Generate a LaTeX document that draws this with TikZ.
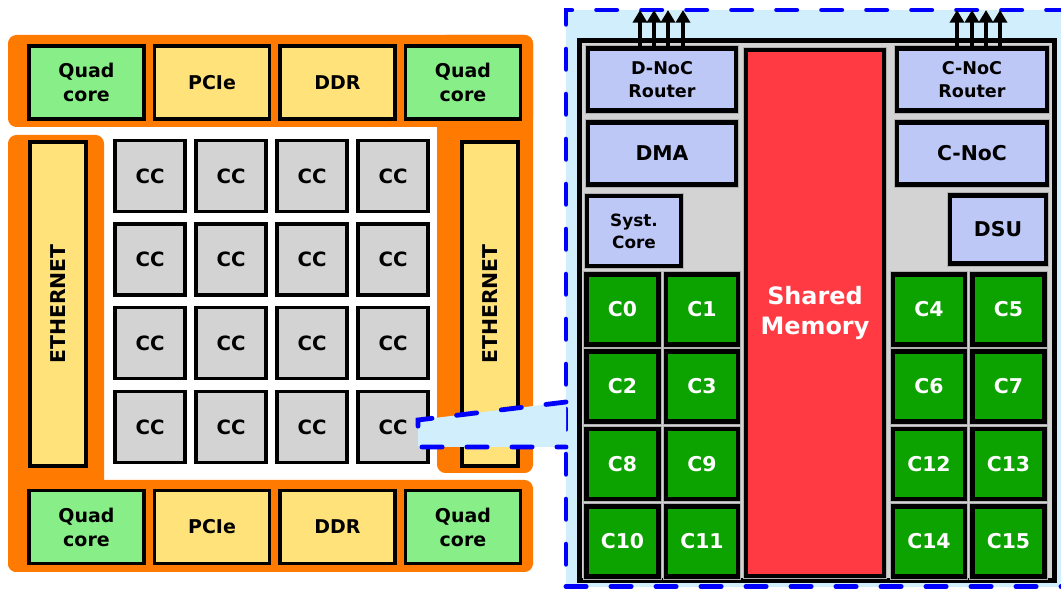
\documentclass[tikz,border=0pt]{standalone}
\usepackage{fontspec}
\setmainfont{DejaVu Sans}
\usepackage{tikz}
\usetikzlibrary{arrows.meta,positioning,calc}
\definecolor{chiporange}{RGB}{255, 122, 0}
\definecolor{quadgreen}{RGB}{136, 238, 136}
\definecolor{ioyellow}{RGB}{255, 226, 122}
\definecolor{ccgray}{RGB}{211, 211, 211}
\definecolor{zoomblue}{RGB}{208, 238, 251}
\definecolor{dashblue}{RGB}{0, 0, 255}
\definecolor{noclilac}{RGB}{190, 200, 247}
\definecolor{memred}{RGB}{255, 58, 66}
\definecolor{coregreen}{RGB}{12, 162, 0}
\definecolor{cellline}{RGB}{176, 176, 176}

\begin{document}
\begin{tikzpicture}[x=0.025cm, y=-0.025cm,
    iobox/.style={draw=black, line width=2.8pt, inner sep=0pt, align=center,
        font=\fontsize{13.5}{17}\selectfont\bfseries},
    quad/.style={iobox, fill=quadgreen, minimum width=2.875cm, minimum height=1.825cm},
    port/.style={iobox, fill=ioyellow, minimum width=2.875cm, minimum height=1.825cm},
    ether/.style={iobox, fill=ioyellow, rotate=90, minimum width=8.1cm, minimum height=1.4cm,
        font=\fontsize{14.5}{17}\selectfont\bfseries},
    cc/.style={iobox, fill=ccgray, minimum width=1.75cm, minimum height=1.775cm,
        font=\fontsize{14}{17}\selectfont\bfseries},
    module/.style={draw=black, line width=3.2pt, preaction={draw=cellline, line width=4.6pt},
        inner sep=0pt, align=center},
    noc/.style={module, fill=noclilac, font=\fontsize{14.5}{17}\selectfont\bfseries},
    core/.style={module, fill=coregreen, text=white, minimum width=1.81cm, minimum height=1.76cm,
        font=\fontsize{14.5}{17}\selectfont\bfseries},
    flow/.style={-{Triangle[length=9pt,width=10pt]}, line width=3pt},
    zoomline/.style={dashblue, line width=3.4pt, dash pattern=on 14.4pt off 17.6pt, line cap=round}]
    \useasboundingbox (0,0) rectangle (1061,589);

    % orange package frame
    \fill[chiporange, rounded corners=6pt] (8,35) rectangle (533,127);
    \fill[chiporange, rounded corners=6pt] (437,35) rectangle (533,473);
    \fill[chiporange, rounded corners=6pt] (8,135) rectangle (104,572);
    \fill[chiporange, rounded corners=6pt] (8,480) rectangle (533,572);

    % I/O blocks, top and bottom
    \node[quad] (quad1) at (86.5,82.5) {Quad\\core};
    \node[port] (pcie1) at (212,82.5) {PCIe};
    \node[port] (ddr1) at (337.5,82.5) {DDR};
    \node[quad] (quad2) at (463,82.5) {Quad\\core};
    \node[quad] (quad3) at (86.5,527) {Quad\\core};
    \node[port] (pcie2) at (212,527) {PCIe};
    \node[port] (ddr2) at (337.5,527) {DDR};
    \node[quad] (quad4) at (463,527) {Quad\\core};
    \node[ether] (ethl) at (58,304) {ETHERNET};
    \node[ether] (ethr) at (490,304) {ETHERNET};

    % compute clusters
    \node[cc] (cc11) at (150,176) {CC};
    \node[cc] (cc12) at (231,176) {CC};
    \node[cc] (cc13) at (312,176) {CC};
    \node[cc] (cc14) at (393,176) {CC};
    \node[cc] (cc21) at (150,259.5) {CC};
    \node[cc] (cc22) at (231,259.5) {CC};
    \node[cc] (cc23) at (312,259.5) {CC};
    \node[cc] (cc24) at (393,259.5) {CC};
    \node[cc] (cc31) at (150,343) {CC};
    \node[cc] (cc32) at (231,343) {CC};
    \node[cc] (cc33) at (312,343) {CC};
    \node[cc] (cc34) at (393,343) {CC};
    \node[cc] (cc41) at (150,427) {CC};
    \node[cc] (cc42) at (231,427) {CC};
    \node[cc] (cc43) at (312,427) {CC};
    \node[cc] (cc44) at (393,427) {CC};

    % zoomed cluster
    \node[fill=zoomblue, draw=dashblue, line width=3.4pt, dash pattern=on 14.4pt off 17.6pt,
        line cap=round, minimum width=12.55cm, minimum height=14.41cm] (panel) at (817,298.25) {};
    \coordinate (zoomA) at (566,402);
    \coordinate (zoomB) at (418,420);
    \coordinate (zoomC) at (418,447);
    \coordinate (zoomD) at (566,447);
    \fill[zoomblue] (zoomA) -- (zoomB) -- (zoomC) -- (zoomD) -- cycle;
    \draw[zoomline] (zoomA) -- (zoomB) -- (zoomC) -- (zoomD);

    \node[draw=black, line width=3.5pt, fill=ccgray, minimum width=11.875cm, minimum height=13.5cm]
        (chip) at (817,310.5) {};

    \node[noc, minimum width=3.69cm, minimum height=1.56cm, font=\fontsize{12.5}{16}\selectfont\bfseries]
        (dnoc) at (662,79.5) {D-NoC\\Router};
    \node[noc, minimum width=3.69cm, minimum height=1.56cm] (dma) at (662,153.5) {DMA};
    \node[noc, minimum width=2.34cm, minimum height=1.74cm, font=\fontsize{12}{15.5}\selectfont\bfseries]
        (syst) at (634,231) {Syst.\\Core};
    \node[noc, minimum width=3.74cm, minimum height=1.56cm, font=\fontsize{12.5}{16}\selectfont\bfseries]
        (cnocr) at (972,79.5) {C-NoC\\Router};
    \node[noc, minimum width=3.74cm, minimum height=1.56cm] (cnoc) at (972,153.5) {C-NoC};
    \node[noc, minimum width=2.39cm, minimum height=1.71cm] (dsu) at (998,229.5) {DSU};
    \node[module, fill=memred, text=white, minimum width=3.44cm, minimum height=13.14cm,
        font=\fontsize{17}{21.5}\selectfont\bfseries] (mem) at (815,313) {Shared\\Memory};

    % processing cores
    \node[core] (c0) at (622.5,309.5) {C0};
    \node[core] (c1) at (702,309.5) {C1};
    \node[core] (c2) at (622.5,386.5) {C2};
    \node[core] (c3) at (702,386.5) {C3};
    \node[core] (c8) at (622.5,464) {C8};
    \node[core] (c9) at (702,464) {C9};
    \node[core] (c10) at (622.5,541.5) {C10};
    \node[core] (c11) at (702,541.5) {C11};
    \node[core] (c4) at (929,309.5) {C4};
    \node[core] (c5) at (1008.5,309.5) {C5};
    \node[core] (c6) at (929,386.5) {C6};
    \node[core] (c7) at (1008.5,386.5) {C7};
    \node[core] (c12) at (929,464) {C12};
    \node[core] (c13) at (1008.5,464) {C13};
    \node[core] (c14) at (929,541.5) {C14};
    \node[core] (c15) at (1008.5,541.5) {C15};

    % NoC links leaving the cluster
    \coordinate (dout1) at (640,10);
    \coordinate (dout2) at (654,10);
    \coordinate (dout3) at (668,10);
    \coordinate (dout4) at (683,10);
    \coordinate (cout1) at (957,10);
    \coordinate (cout2) at (972,10);
    \coordinate (cout3) at (986,10);
    \coordinate (cout4) at (1000,10);
    \draw[flow] (dnoc.north -| dout1) -- (dout1);
    \draw[flow] (dnoc.north -| dout2) -- (dout2);
    \draw[flow] (dnoc.north -| dout3) -- (dout3);
    \draw[flow] (dnoc.north -| dout4) -- (dout4);
    \draw[flow] (cnocr.north -| cout1) -- (cout1);
    \draw[flow] (cnocr.north -| cout2) -- (cout2);
    \draw[flow] (cnocr.north -| cout3) -- (cout3);
    \draw[flow] (cnocr.north -| cout4) -- (cout4);
\end{tikzpicture}
\end{document}
